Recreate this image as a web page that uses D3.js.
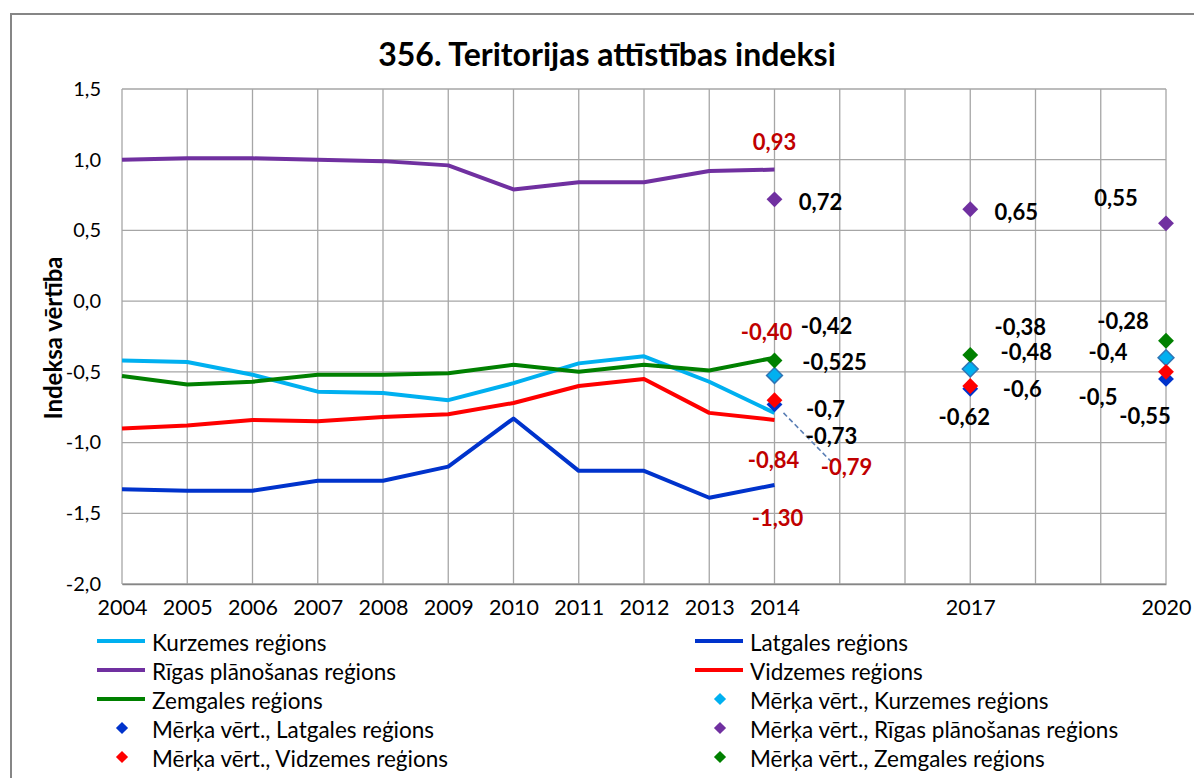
<!DOCTYPE html>
<html>
<head>
<meta charset="utf-8">
<script src="https://cdn.jsdelivr.net/npm/d3@7"></script>
<style>
  body { margin: 0; background: #fff; }
  text { font-family: Lato, "Open Sans", sans-serif; }
</style>
</head>
<body>
<svg id="chart" width="1194" height="778"></svg>
<script>
// yearly index values 2004-2014
const years = [2004, 2005, 2006, 2007, 2008, 2009, 2010, 2011, 2012, 2013, 2014];
const kurzeme = [-0.42, -0.43, -0.52, -0.64, -0.65, -0.70, -0.58, -0.44, -0.39, -0.57, -0.79];
const latgale = [-1.33, -1.34, -1.34, -1.27, -1.27, -1.17, -0.83, -1.20, -1.20, -1.39, -1.30];
const riga = [1.00, 1.01, 1.01, 1.00, 0.99, 0.96, 0.79, 0.84, 0.84, 0.92, 0.93];
const vidzeme = [-0.90, -0.88, -0.84, -0.85, -0.82, -0.80, -0.72, -0.60, -0.55, -0.79, -0.84];
const zemgale = [-0.53, -0.59, -0.57, -0.52, -0.52, -0.51, -0.45, -0.50, -0.45, -0.49, -0.40];

// target values
const targetYears = [2014, 2017, 2020];
const targetKurzeme = [-0.525, -0.48, -0.4];
const targetLatgale = [-0.73, -0.62, -0.55];
const targetRiga = [0.72, 0.65, 0.55];
const targetVidzeme = [-0.7, -0.6, -0.5];
const targetZemgale = [-0.42, -0.38, -0.28];

const xTickLabels = [2004, 2005, 2006, 2007, 2008, 2009, 2010, 2011, 2012, 2013, 2014, 2017, 2020];
const yTicks = [-2, -1.5, -1, -0.5, 0, 0.5, 1, 1.5];

const regionNames = ["Kurzemes reģions", "Latgales reģions", "Rīgas plānošanas reģions", "Vidzemes reģions", "Zemgales reģions"];
const colors = ["#00B0F0", "#0033CC", "#7030A0", "#FF0000", "#008000"];

const lineSeries = [kurzeme, latgale, riga, vidzeme, zemgale];
const targetSeries = [targetKurzeme, targetLatgale, targetRiga, targetVidzeme, targetZemgale];

// label placement (offsets from the point), manual like in the source chart
const actualLabelOffsets = [[72, 54], [3, 32], [0, -28], [-1, 40], [-8, -26]];
const targetLabelOffsets = [
  [[60, -14], [56, -18], [-58, -6]],
  [[57, 31], [-6, 28], [-21, 37]],
  [[46, 2], [46, 2], [-50, -26]],
  [[51, 8], [52, 2], [-68, 25]],
  [[52, -35], [50, -28], [-43, -20]]
];

const svg = d3.select("#chart");

// chart border
svg.append("rect")
  .attr("x", 11).attr("y", 14)
  .attr("width", 1200).attr("height", 800)
  .attr("fill", "#fff")
  .attr("stroke", "#868686")
  .attr("stroke-width", 2);

const x = d3.scaleLinear().domain([2004, 2020]).range([122, 1166]);
const y = d3.scaleLinear().domain([-2, 1.5]).range([584, 89]);

const lv = d3.formatLocale({ decimal: ",", thousands: " ", grouping: [3], currency: ["", ""], minus: "-" });
const fmt1 = lv.format(".1f");
const fmt2 = lv.format(".2f");
const fmtTarget = v => String(v).replace(".", ",");

// gridlines
const grid = svg.append("g");
grid.selectAll("line.v")
  .data(d3.range(2004, 2021))
  .enter().append("line")
  .attr("x1", d => x(d)).attr("x2", d => x(d))
  .attr("y1", y(1.5)).attr("y2", y(-2))
  .attr("stroke", "#A6A6A6").attr("stroke-width", 1.3);
grid.selectAll("line.h")
  .data(yTicks)
  .enter().append("line")
  .attr("x1", x(2004)).attr("x2", x(2020))
  .attr("y1", d => y(d)).attr("y2", d => y(d))
  .attr("stroke", "#A6A6A6").attr("stroke-width", 1.3);

// y axis
const yAxis = svg.append("g")
  .attr("transform", `translate(${x(2004)},0)`)
  .call(d3.axisLeft(y).tickValues(yTicks).tickFormat(fmt1).tickSize(0).tickPadding(21));
yAxis.select(".domain").remove();
yAxis.selectAll("text").attr("font-size", 20).attr("fill", "#000")
  .style("font-family", "Lato, 'Open Sans', sans-serif");

// x axis
const xAxis = svg.append("g")
  .attr("transform", `translate(0,${y(-2)})`)
  .call(d3.axisBottom(x).tickValues(xTickLabels).tickFormat(d3.format("d")).tickSize(0).tickPadding(16));
xAxis.select(".domain").attr("stroke", "#868686").attr("stroke-width", 1.5);
xAxis.selectAll("text").attr("font-size", 21.5).attr("fill", "#000")
  .style("font-family", "Lato, 'Open Sans', sans-serif");

// title
svg.append("text")
  .attr("x", 607).attr("y", 66)
  .attr("text-anchor", "middle")
  .attr("font-size", 32).attr("font-weight", "bold")
  .text("356. Teritorijas attīstības indeksi");

// y axis title
svg.append("text")
  .attr("transform", "translate(52,338) rotate(-90)")
  .attr("text-anchor", "middle")
  .attr("dominant-baseline", "central")
  .attr("font-size", 24).attr("font-weight", "bold")
  .text("Indeksa vērtība");

// lines
const line = d3.line().x((d, i) => x(years[i])).y(d => y(d));
lineSeries.forEach((s, k) => {
  svg.append("path")
    .datum(s)
    .attr("d", line)
    .attr("fill", "none")
    .attr("stroke", colors[k])
    .attr("stroke-width", 4)
    .attr("stroke-linejoin", "round");
});

// leader line for Kurzeme 2014 label
{
  const px = x(2014), py = y(kurzeme[10]);
  svg.append("line")
    .attr("x1", px + 9).attr("y1", py)
    .attr("x2", px + 58).attr("y2", py + 50)
    .attr("stroke", "#5B7FB5").attr("stroke-width", 1.6)
    .attr("stroke-dasharray", "5,3");
}

// target markers
const diamond = d3.symbol().type(d3.symbolDiamond2).size(160);
targetSeries.forEach((s, k) => {
  svg.append("g").selectAll("path")
    .data(s)
    .enter().append("path")
    .attr("d", diamond)
    .attr("transform", (d, i) => `translate(${x(targetYears[i])},${y(d)})`)
    .attr("fill", colors[k])
    .attr("stroke", k === 0 ? "#2E75B6" : "none")
    .attr("stroke-width", 1.5);
});

// actual 2014 value labels (red)
lineSeries.forEach((s, k) => {
  const v = s[s.length - 1];
  svg.append("text")
    .attr("x", x(2014) + actualLabelOffsets[k][0])
    .attr("y", y(v) + actualLabelOffsets[k][1])
    .attr("text-anchor", "middle")
    .attr("dominant-baseline", "central")
    .attr("font-size", 22).attr("font-weight", "bold")
    .attr("fill", "#C00000")
    .text(fmt2(v));
});

// target labels (black)
targetSeries.forEach((s, k) => {
  s.forEach((v, i) => {
    svg.append("text")
      .attr("x", x(targetYears[i]) + targetLabelOffsets[k][i][0])
      .attr("y", y(v) + targetLabelOffsets[k][i][1])
      .attr("text-anchor", "middle")
      .attr("dominant-baseline", "central")
      .attr("font-size", 22).attr("font-weight", "bold")
      .attr("fill", "#000")
      .text(fmtTarget(v));
  });
});

// legend
const legendItems = [];
regionNames.forEach((n, k) => legendItems.push({ name: n, color: colors[k], type: "line" }));
regionNames.forEach((n, k) => legendItems.push({ name: "Mērķa vērt., " + n, color: colors[k], type: "marker" }));

const legend = svg.append("g");
legendItems.forEach((d, i) => {
  const col = i % 2, row = Math.floor(i / 2);
  const lx = col === 0 ? 97 : 695;
  const ly = 641 + row * 29;
  const g = legend.append("g").attr("transform", `translate(${lx},${ly})`);
  if (d.type === "line") {
    g.append("line").attr("x1", 0).attr("x2", 48).attr("y1", 0).attr("y2", 0)
      .attr("stroke", d.color).attr("stroke-width", 4);
  } else {
    g.append("path").attr("d", d3.symbol().type(d3.symbolDiamond2).size(95))
      .attr("transform", "translate(25,0)").attr("fill", d.color);
  }
  g.append("text").attr("x", 55).attr("y", 1)
    .attr("dominant-baseline", "central")
    .attr("font-size", 22.5)
    .text(d.name);
});
</script>
</body>
</html>
